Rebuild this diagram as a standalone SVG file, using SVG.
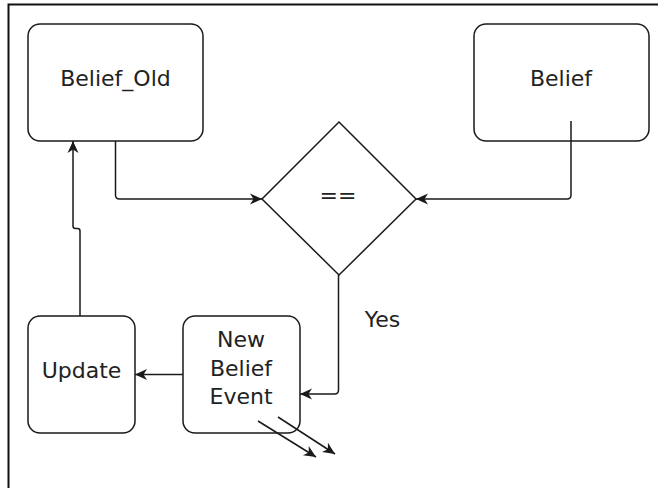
<svg xmlns="http://www.w3.org/2000/svg" width="658" height="488" viewBox="0 0 658 488">
  <style>
    .shape { fill: #ffffff; stroke: #1a1a1a; stroke-width: 1.5; }
    .edge { fill: none; stroke: #1a1a1a; stroke-width: 1.5; stroke-linejoin: round; }
    .label { font-family: "DejaVu Sans", "Liberation Sans", sans-serif; font-size: 22px; fill: #222222; text-anchor: middle; }
  </style>
  <defs>
    <marker id="arrow" viewBox="-14 -7 15 14" refX="0" refY="0" markerWidth="15" markerHeight="14" markerUnits="userSpaceOnUse" orient="auto">
      <path d="M0,0 L-12,-5.5 L-8.5,0 L-12,5.5 Z" fill="#1a1a1a"/>
    </marker>
  </defs>
  <rect width="658" height="488" fill="#ffffff"/>
  <!-- page frame (top and left edges) -->
  <path d="M8.5,488 V4.5 H658" fill="none" stroke="#111" stroke-width="2"/>

  <g id="belief-old">
    <rect class="shape" x="28" y="24" width="175" height="117" rx="12"/>
    <text class="label" x="115.5" y="86">Belief_Old</text>
  </g>
  <g id="belief">
    <rect class="shape" x="474" y="24" width="175" height="117" rx="12"/>
    <text class="label" x="561" y="86">Belief</text>
  </g>
  <g id="compare">
    <polygon class="shape" points="339,122 416,199 339,275 262,199"/>
    <text class="label" x="338" y="203">==</text>
  </g>
  <g id="update">
    <rect class="shape" x="28" y="316" width="107" height="117" rx="12"/>
    <text class="label" x="81.5" y="378">Update</text>
  </g>
  <g id="new-belief-event">
    <rect class="shape" x="183" y="316" width="117" height="117" rx="12"/>
    <text class="label" x="241" y="347">New</text>
    <text class="label" x="241" y="375.5">Belief</text>
    <text class="label" x="241" y="404">Event</text>
  </g>

  <g id="connectors">
    <path class="edge" d="M115.5,141 V195 Q115.5,199 119.5,199 H262" marker-end="url(#arrow)"/>
    <path class="edge" d="M571,121 V195 Q571,199 567,199 H416" marker-end="url(#arrow)"/>
    <path class="edge" d="M338.5,275 V390 Q338.5,394 334.5,394 H300" marker-end="url(#arrow)"/>
    <path class="edge" d="M183,374.5 H135" marker-end="url(#arrow)"/>
    <path class="edge" d="M80,316 V231 Q80,228.5 77.5,228.5 H75.5 Q73,228.5 73,226 V141" marker-end="url(#arrow)"/>
    <path class="edge" d="M258,421 L316,457" marker-end="url(#arrow)"/>
    <path class="edge" d="M278,417 L335,454" marker-end="url(#arrow)"/>
    <text class="label" x="382.5" y="327">Yes</text>
  </g>
</svg>
